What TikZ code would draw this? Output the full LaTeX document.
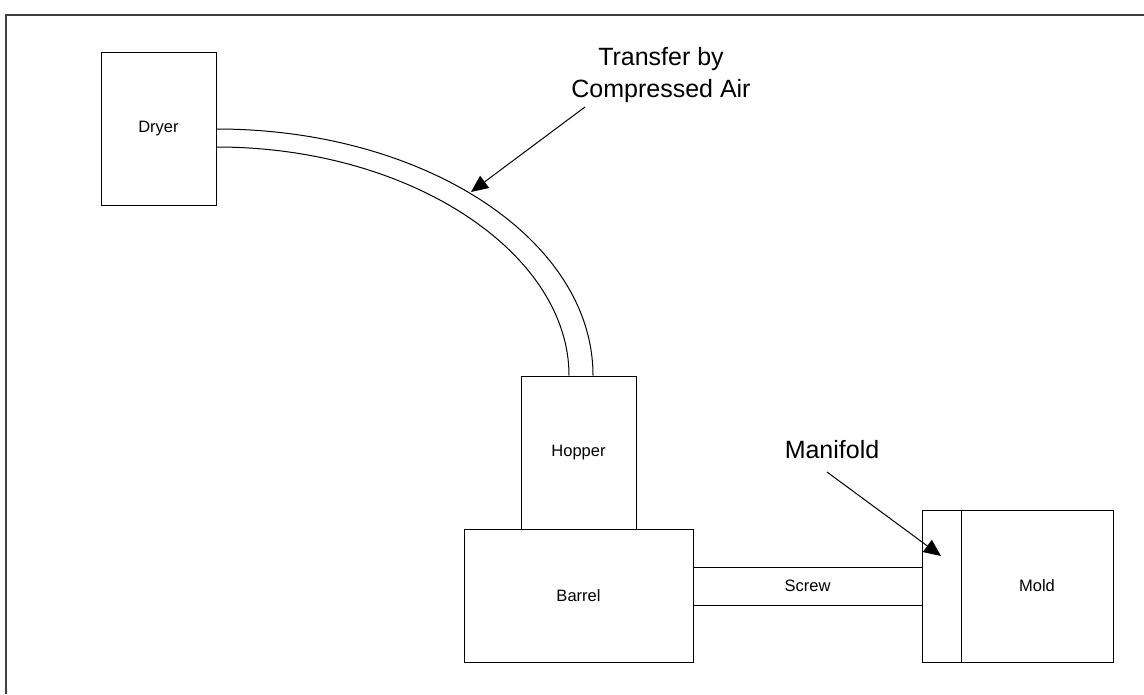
\documentclass[tikz,border=0pt]{standalone}
\usepackage{fontspec}
\setmainfont{Liberation Sans}
\usetikzlibrary{arrows.meta}
\begin{document}
\begin{tikzpicture}[x=1pt,y=-1pt,
  box/.style={draw, line width=1pt, inner sep=0pt, font=\fontsize{16.5}{19}\selectfont},
  callout/.style={font=\fontsize{25}{32}\selectfont, inner sep=0pt, align=center},
  pointer/.style={line width=1pt, -{Triangle[length=17pt,width=15pt]}},
  pipe/.style={line width=1pt},
  frame/.style={line width=1.6pt, black!75}]
\useasboundingbox (0,0) rectangle (1144,694);
\draw[frame] (6,694) -- (6,15) -- (1144,15);

\node[box, minimum width=115pt, minimum height=153pt] (dryer) at (158.5,128.5) {Dryer};
\node[box, minimum width=115pt, minimum height=153pt] (hopper) at (578.5,452.5) {Hopper};
\node[box, minimum width=229pt, minimum height=133pt] (barrel) at (578.5,595.5) {Barrel};
\node[box, minimum width=229pt, minimum height=38pt] (screw) at (807.5,586) {Screw};
\node[box, minimum width=39pt, minimum height=152pt] (manifold) at (941.5,586) {};
\node[box, minimum width=152pt, minimum height=152pt] (mold) at (1037,586) {Mold};

% pipe from dryer to hopper
\coordinate (pa1) at ([yshift=-0.5pt]dryer.east);
\coordinate (pb1) at ([yshift=-18.5pt]dryer.east);
\coordinate (pa2) at ([xshift=14.5pt]hopper.north);
\coordinate (pb2) at ([xshift=-9.5pt]hopper.north);
\draw[pipe] (pa1) .. controls +(208pt,0pt) and +(0pt,136pt) .. (pa2);
\draw[pipe] (pb1) .. controls +(195pt,0pt) and +(0pt,122pt) .. (pb2);

% callouts
\node[callout, anchor=north] (transfer) at (661,47) {Transfer by\\Compressed Air};
\node[callout, anchor=base] (manifoldlbl) at (832,458) {Manifold};
\coordinate (ta) at (585,107);
\coordinate (tb) at (471,192);
\draw[pointer] (ta) -- (tb);
\coordinate (ma) at (827,472);
\coordinate (mb) at (941,556);
\draw[pointer] (ma) -- (mb);
\end{tikzpicture}
\end{document}
